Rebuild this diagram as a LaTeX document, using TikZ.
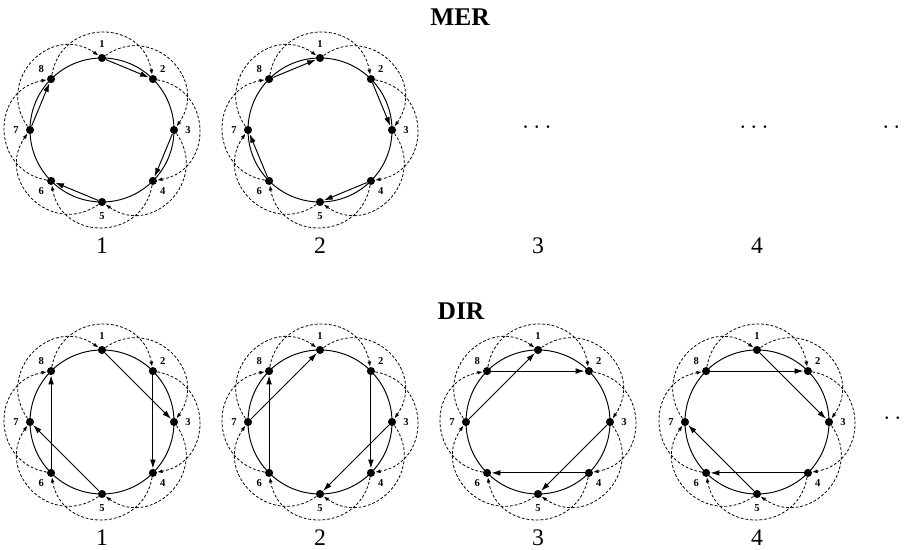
\documentclass[tikz,border=0pt]{standalone}
\usepackage{fontspec}
\setmainfont{Liberation Serif}
\usetikzlibrary{calc}
\usetikzlibrary{arrows.meta}
\tikzstyle{vertex} = [circle, fill=black, inner sep=0pt, minimum size=4.6pt]
\tikzstyle{numlbl} = [font=\fontsize{6}{7}\selectfont\bfseries, inner sep=0pt]
\tikzstyle{ringline} = [line width=0.55pt]
\tikzstyle{skiparc} = [line width=0.45pt, dash pattern=on 1.6pt off 1.1pt, -{Latex[length=3pt,width=2.2pt]}]
\tikzstyle{arrow} = [line width=0.55pt, -{Latex[length=5pt,width=3.2pt]}]
\tikzstyle{colnum} = [font=\fontsize{13.5}{16}\selectfont, inner sep=1pt]
\tikzstyle{rowtitle} = [font=\fontsize{14.5}{17}\selectfont\bfseries]
\tikzstyle{more} = [font=\fontsize{14.4}{17}\selectfont, anchor=base]
% one ring: name, x, y
\newcommand{\drawring}[3]{%
  \draw[ringline] (#2,#3) circle (72);
  \foreach \k in {1,...,8}{
    \node(#1-\k)[vertex] at ($(#2,#3)+(135-45*\k:72)$) {};
    \node(#1-n\k)[numlbl] at ($(#2,#3)+(135-45*\k:86)$) {\k};
  }
  \foreach \k in {1,...,8}{
    \pgfmathtruncatemacro{\nxt}{mod(\k+1,8)+1}
    \draw[skiparc] (#1-\k) to[bend left=80, looseness=1.46] (#1-\nxt);
  }
}

\begin{document}
\begin{tikzpicture}[x=0.02cm, y=0.02cm]
  \useasboundingbox (0,0) rectangle (906,550);

  % MER
  \node(mer)[rowtitle] at (460,533) {MER};
  \drawring{m1}{102}{420}
  \drawring{m2}{320}{420}
  \draw[arrow] (m1-1) -- (m1-2);
  \draw[arrow] (m1-3) -- (m1-4);
  \draw[arrow] (m1-5) -- (m1-6);
  \draw[arrow] (m1-7) -- (m1-8);
  \draw[arrow] (m2-8) -- (m2-1);
  \draw[arrow] (m2-2) -- (m2-3);
  \draw[arrow] (m2-4) -- (m2-5);
  \draw[arrow] (m2-6) -- (m2-7);
  \node(mdots3)[more] at (537,416) {$\cdots$};
  \node(mdots4)[more] at (754,416) {$\cdots$};
  \node(mdots5)[more] at (897,416) {$\cdots$};
  \node(mc1)[colnum] at (102,304) {1};
  \node(mc2)[colnum] at (320,304) {2};
  \node(mc3)[colnum] at (538,304) {3};
  \node(mc4)[colnum] at (757,304) {4};

  % DIR
  \node(dir)[rowtitle] at (461,239) {DIR};
  \drawring{d1}{102}{128}
  \drawring{d2}{320}{128}
  \drawring{d3}{538}{128}
  \drawring{d4}{757}{128}
  \draw[arrow] (d1-1) -- (d1-3);
  \draw[arrow] (d1-2) -- (d1-4);
  \draw[arrow] (d1-5) -- (d1-7);
  \draw[arrow] (d1-6) -- (d1-8);
  \draw[arrow] (d2-7) -- (d2-1);
  \draw[arrow] (d2-2) -- (d2-4);
  \draw[arrow] (d2-3) -- (d2-5);
  \draw[arrow] (d2-6) -- (d2-8);
  \draw[arrow] (d3-7) -- (d3-1);
  \draw[arrow] (d3-8) -- (d3-2);
  \draw[arrow] (d3-3) -- (d3-5);
  \draw[arrow] (d3-4) -- (d3-6);
  \draw[arrow] (d4-1) -- (d4-3);
  \draw[arrow] (d4-8) -- (d4-2);
  \draw[arrow] (d4-5) -- (d4-7);
  \draw[arrow] (d4-4) -- (d4-6);
  \node(ddots5)[more] at (898,125) {$\cdots$};
  \node(dc1)[colnum] at (102,12) {1};
  \node(dc2)[colnum] at (320,12) {2};
  \node(dc3)[colnum] at (538,12) {3};
  \node(dc4)[colnum] at (757,12) {4};

\end{tikzpicture}
\end{document}
